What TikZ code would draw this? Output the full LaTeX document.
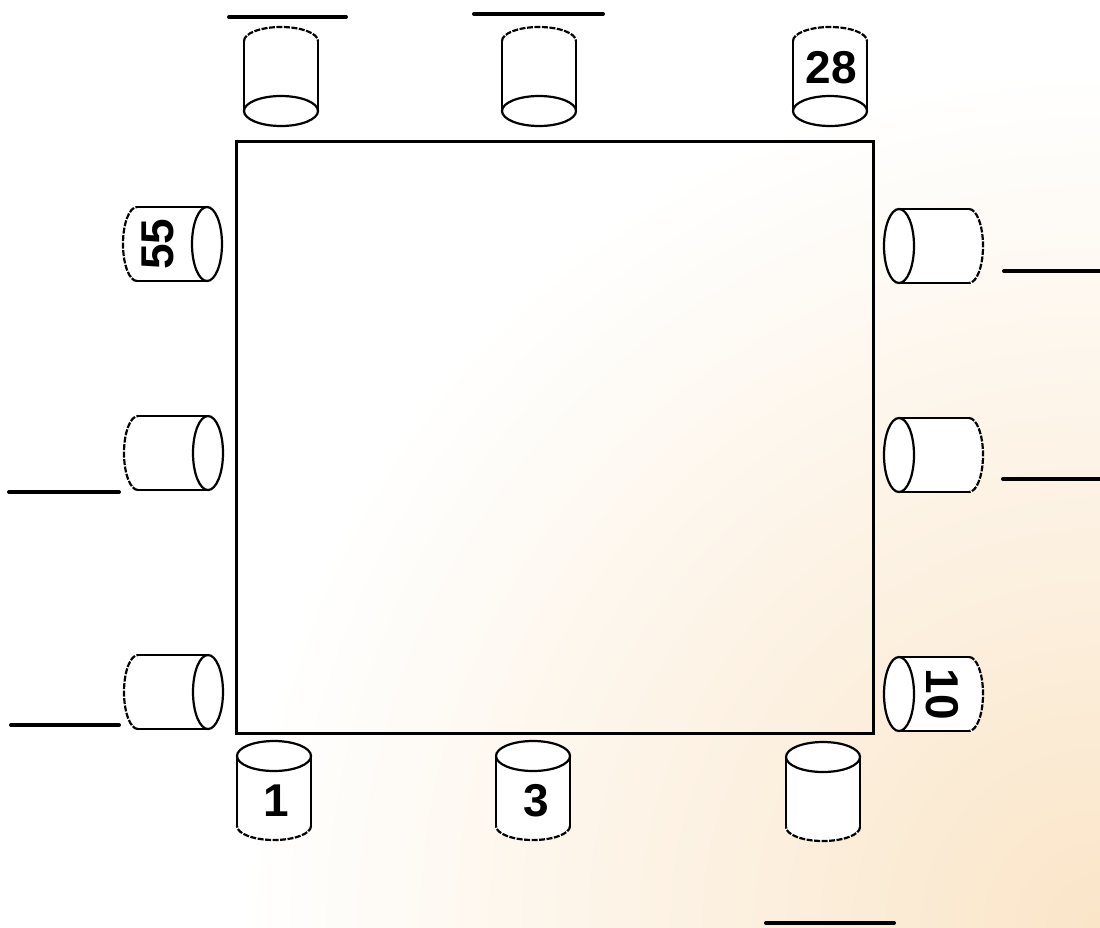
\documentclass[tikz,border=0pt]{standalone}
\usepackage{fontspec}
\setmainfont{Liberation Sans}
\begin{document}
\begin{tikzpicture}[x=1pt,y=-1pt,
  edge/.style={line width=2.2pt,black},
  backedge/.style={line width=2.2pt,black,dash pattern=on 6pt off 1.5pt},
  blank/.style={line width=4pt,black,line cap=round},
  tablebox/.style={line width=3pt,black},
  seatnum/.style={font=\bfseries\fontsize{46}{46}\selectfont,inner sep=0pt},
  chair/.pic={
    \fill[white] (-37,0) -- (-37,-70) arc[start angle=180,end angle=360,x radius=37,y radius=14] -- (37,0) -- cycle;
    \draw[edge] (-37,0) -- (-37,-70) (37,0) -- (37,-70);
    \draw[backedge] (-37,-70) arc[start angle=180,end angle=360,x radius=37,y radius=14];
    \draw[edge,fill=white] (0,0) ellipse[x radius=37,y radius=15];
  }]
\useasboundingbox (0,0) rectangle (1100,927);
\begin{scope}
  \clip (0,0) rectangle (1100,927);
  \fill[white] (0,0) rectangle (1100,927);
  \shade[inner color={rgb,255:red,250;green,229;blue,200},outer color=white] (1100,927) circle[radius=860];
\end{scope}
% table
\draw[tablebox] (236,141) rectangle (873,733);
% top chairs
\pic at (281,111) {chair};
\pic at (539,111) {chair};
\pic at (830,111) {chair};
% bottom chairs
\pic[rotate=180] at (274,756) {chair};
\pic[rotate=180] at (533,756) {chair};
\pic[rotate=180] at (823,757) {chair};
% left chairs
\pic[rotate=90] at (207,244) {chair};
\pic[rotate=90] at (208,453) {chair};
\pic[rotate=90] at (208,692) {chair};
% right chairs
\pic[rotate=-90] at (899,246) {chair};
\pic[rotate=-90] at (899,455) {chair};
\pic[rotate=-90] at (899,694) {chair};
% seat numbers
\node[seatnum] (n28) at (831,68) {28};
\node[seatnum,rotate=90] (n55) at (158,244) {55};
\node[seatnum,rotate=-90] (n10) at (942,694) {10};
\node[seatnum] (n1) at (276,801) {1};
\node[seatnum] (n3) at (536,801) {3};
% blanks
\coordinate (b1a) at (229,17); \coordinate (b1b) at (346,17);
\coordinate (b2a) at (474,14); \coordinate (b2b) at (603,14);
\coordinate (b3a) at (1004,271); \coordinate (b3b) at (1100,271);
\coordinate (b4a) at (1003,479); \coordinate (b4b) at (1100,479);
\coordinate (b5a) at (9,492); \coordinate (b5b) at (119,492);
\coordinate (b6a) at (11,725); \coordinate (b6b) at (119,725);
\coordinate (b7a) at (766,923); \coordinate (b7b) at (894,923);
\foreach \a/\b in {b1a/b1b,b2a/b2b,b3a/b3b,b4a/b4b,b5a/b5b,b6a/b6b,b7a/b7b}
  \draw[blank] (\a) -- (\b);
\end{tikzpicture}
\end{document}
